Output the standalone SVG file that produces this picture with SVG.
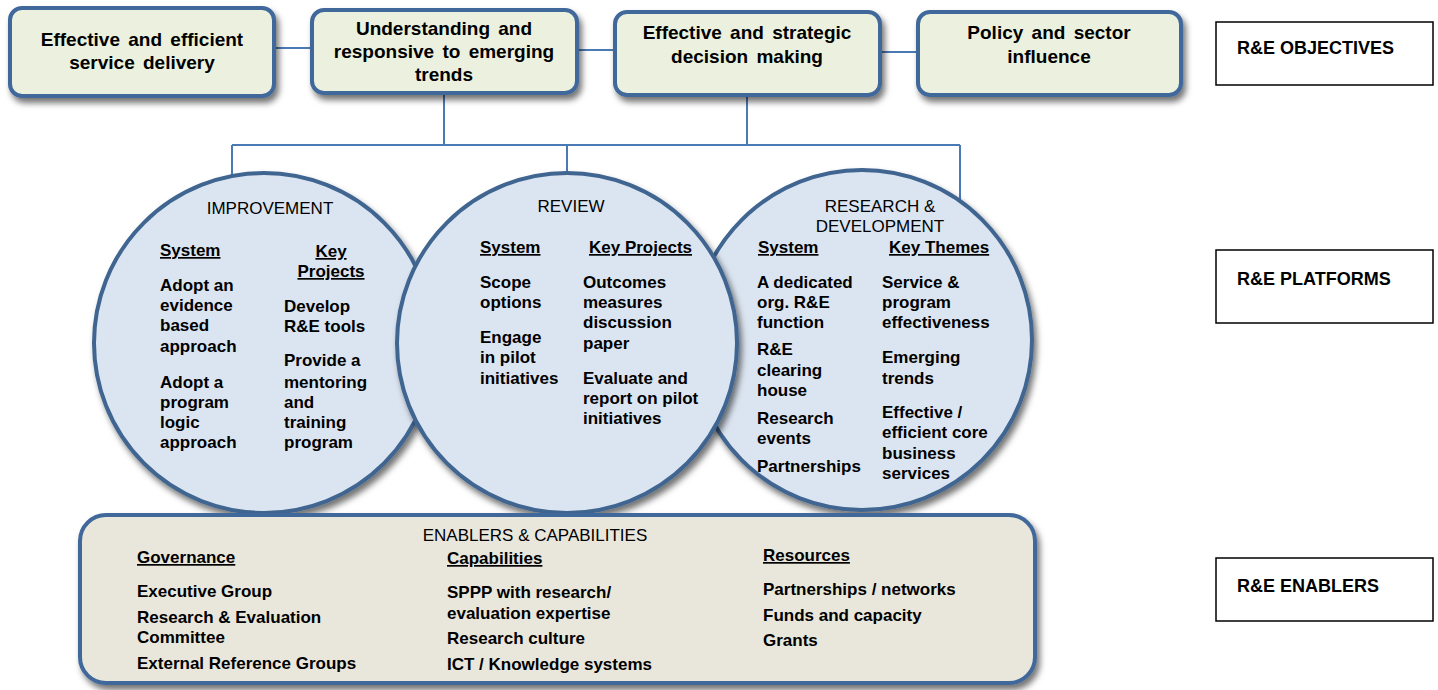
<svg xmlns="http://www.w3.org/2000/svg" width="1438" height="690" viewBox="0 0 1438 690">
<defs>
<filter id="sh" x="-10%" y="-10%" width="125%" height="130%">
<feDropShadow dx="3" dy="5" stdDeviation="3" flood-color="#000" flood-opacity="0.55"/>
</filter>
<style>
.obj{fill:#ebf1de;stroke:#41689a;stroke-width:4;filter:url(#sh)}
.circ{fill:#dbe5f1;stroke:#3f6591;stroke-width:4;filter:url(#sh)}
.en{fill:#e9e7dc;stroke:#41689a;stroke-width:4;filter:url(#sh)}
.lbl{fill:#fff;stroke:#000;stroke-width:1.5}
.con{stroke:#4a7ab5;stroke-width:2;fill:none}
text{font-family:"Liberation Sans",Arial,sans-serif;fill:#000}
.ot{font-size:19px;font-weight:bold;text-anchor:middle;word-spacing:3px}
.tt{font-size:17px}
.b{font-size:17px;font-weight:bold}
.u{font-size:17px;font-weight:bold;text-decoration:underline}
.rl{font-size:18px;font-weight:bold}
.m{text-anchor:middle}
</style>
</defs>
<g id="connectors">
<line class="con" x1="274" y1="48" x2="312" y2="48"/>
<line class="con" x1="577" y1="50" x2="615" y2="50"/>
<line class="con" x1="880" y1="52" x2="918" y2="52"/>
<line class="con" x1="444" y1="92" x2="444" y2="145"/>
<line class="con" x1="747" y1="95" x2="747" y2="145"/>
<line class="con" x1="232" y1="145" x2="960" y2="145"/>
<line class="con" x1="232" y1="145" x2="232" y2="178"/>
<line class="con" x1="567" y1="145" x2="567" y2="175" stroke-width="3"/>
<line class="con" x1="960" y1="145" x2="960" y2="202"/>
</g>
<g id="obj1">
<rect class="obj" x="10" y="8" width="264" height="88" rx="12"/>
<text class="ot" x="142" y="46">Effective and efficient</text>
<text class="ot" x="142" y="69">service delivery</text>
</g>
<g id="obj2">
<rect class="obj" x="312" y="10" width="265" height="83" rx="12"/>
<text class="ot" x="444" y="35">Understanding and</text>
<text class="ot" x="444" y="58">responsive to emerging</text>
<text class="ot" x="444" y="81">trends</text>
</g>
<g id="obj3">
<rect class="obj" x="615" y="12" width="265" height="83" rx="12"/>
<text class="ot" x="747" y="39">Effective and strategic</text>
<text class="ot" x="747" y="63">decision making</text>
</g>
<g id="obj4">
<rect class="obj" x="918" y="12" width="263" height="83" rx="12"/>
<text class="ot" x="1049" y="39">Policy and sector</text>
<text class="ot" x="1049" y="63">influence</text>
</g>
<g id="improvement">
<circle class="circ" cx="264" cy="343" r="170"/>
<text class="tt m" x="270" y="214">IMPROVEMENT</text>
<text class="u" x="160" y="256">System</text>
<text class="u m" x="331" y="257">Key</text>
<text class="u m" x="331" y="277">Projects</text>
<text class="b" x="160"><tspan x="160" y="291">Adopt an</tspan><tspan x="160" y="311">evidence</tspan><tspan x="160" y="331">based</tspan><tspan x="160" y="352">approach</tspan><tspan x="160" y="388">Adopt a</tspan><tspan x="160" y="408">program</tspan><tspan x="160" y="428">logic</tspan><tspan x="160" y="448">approach</tspan></text>
<text class="b" x="284"><tspan x="284" y="312">Develop</tspan><tspan x="284" y="332">R&amp;E tools</tspan><tspan x="284" y="366">Provide a</tspan><tspan x="284" y="388">mentoring</tspan><tspan x="284" y="408">and</tspan><tspan x="284" y="428">training</tspan><tspan x="284" y="448">program</tspan></text>
</g>
<g id="research">
<circle class="circ" cx="862" cy="340" r="170"/>
<text class="tt m" x="880" y="212">RESEARCH &amp;</text>
<text class="tt m" x="880" y="232">DEVELOPMENT</text>
<text class="u" x="758" y="253">System</text>
<text class="u" x="889" y="253">Key Themes</text>
<text class="b"><tspan x="757" y="288">A dedicated</tspan><tspan x="757" y="308">org. R&amp;E</tspan><tspan x="757" y="328">function</tspan><tspan x="757" y="355">R&amp;E</tspan><tspan x="757" y="376">clearing</tspan><tspan x="757" y="396">house</tspan><tspan x="757" y="424">Research</tspan><tspan x="757" y="444">events</tspan><tspan x="757" y="472">Partnerships</tspan></text>
<text class="b"><tspan x="882" y="288">Service &amp;</tspan><tspan x="882" y="308">program</tspan><tspan x="882" y="328">effectiveness</tspan><tspan x="882" y="363">Emerging</tspan><tspan x="882" y="384">trends</tspan><tspan x="882" y="418">Effective /</tspan><tspan x="882" y="438">efficient core</tspan><tspan x="882" y="459">business</tspan><tspan x="882" y="479">services</tspan></text>
</g>
<g id="review">
<circle class="circ" cx="567" cy="343" r="170"/>
<text class="tt m" x="571" y="212">REVIEW</text>
<text class="u" x="480" y="253">System</text>
<text class="u" x="589" y="253">Key Projects</text>
<text class="b"><tspan x="480" y="288">Scope</tspan><tspan x="480" y="308">options</tspan><tspan x="480" y="343">Engage</tspan><tspan x="480" y="363">in pilot</tspan><tspan x="480" y="384">initiatives</tspan></text>
<text class="b"><tspan x="583" y="288">Outcomes</tspan><tspan x="583" y="308">measures</tspan><tspan x="583" y="328">discussion</tspan><tspan x="583" y="349">paper</tspan><tspan x="583" y="384">Evaluate and</tspan><tspan x="583" y="404">report on pilot</tspan><tspan x="583" y="424">initiatives</tspan></text>
</g>
<g id="enablers">
<rect class="en" x="80" y="515" width="955" height="168" rx="26"/>
<text class="tt m" x="535" y="541">ENABLERS &amp; CAPABILITIES</text>
<text class="u" x="137" y="563">Governance</text>
<text class="b"><tspan x="137" y="597">Executive Group</tspan><tspan x="137" y="623">Research &amp; Evaluation</tspan><tspan x="137" y="643">Committee</tspan><tspan x="137" y="669">External Reference Groups</tspan></text>
<text class="u" x="447" y="564">Capabilities</text>
<text class="b"><tspan x="447" y="598">SPPP with research/</tspan><tspan x="447" y="619">evaluation expertise</tspan><tspan x="447" y="644">Research culture</tspan><tspan x="447" y="670">ICT / Knowledge systems</tspan></text>
<text class="u" x="763" y="561">Resources</text>
<text class="b"><tspan x="763" y="595">Partnerships / networks</tspan><tspan x="763" y="621">Funds and capacity</tspan><tspan x="763" y="646">Grants</tspan></text>
</g>
<g id="label-objectives">
<rect class="lbl" x="1216" y="22" width="217" height="63"/>
<text class="rl" x="1237" y="54">R&amp;E OBJECTIVES</text>
</g>
<g id="label-platforms">
<rect class="lbl" x="1216" y="250" width="217" height="73"/>
<text class="rl" x="1237" y="285">R&amp;E PLATFORMS</text>
</g>
<g id="label-enablers">
<rect class="lbl" x="1216" y="558" width="217" height="63"/>
<text class="rl" x="1237" y="592">R&amp;E ENABLERS</text>
</g>
</svg>
